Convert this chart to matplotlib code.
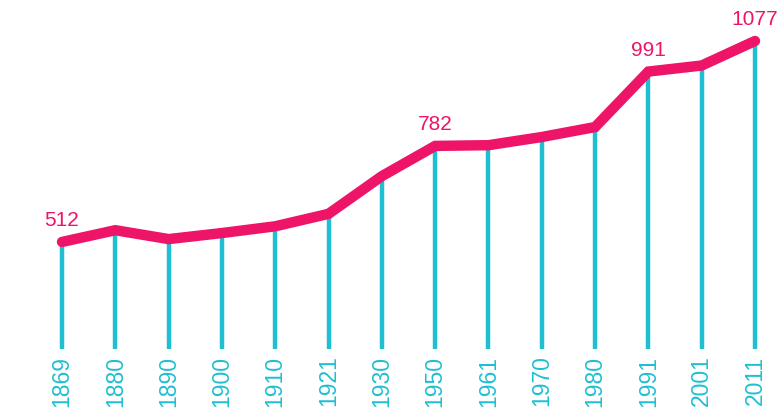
import numpy as np
import matplotlib
matplotlib.use("Agg")
from matplotlib import pyplot as plt

years = ["1869", "1880", "1890", "1900", "1910", "1921", "1930",
         "1950", "1961", "1970", "1980", "1991", "2001", "2011"]
values = [512, 545, 520, 537, 556, 591, 697, 782, 784, 807, 835, 991, 1008, 1077]
labelled = {"1869": 512, "1950": 782, "1991": 991, "2011": 1077}

pink = "#EE1468"
cyan = "#1FBFD3"
base = 211

plt.rcParams['font.family'] = ['Liberation Sans', 'DejaVu Sans']

fig = plt.figure(figsize=(7.78, 4.10), dpi=100)
ax = fig.add_axes([0, 60 / 410, 1, 350 / 410])
x = np.arange(len(years))

ax.vlines(x, base, values, color=cyan, linewidth=3.2, zorder=1)
ax.plot(x, values, color=pink, linewidth=7.5, solid_capstyle='round',
        solid_joinstyle='miter', zorder=2)

for i, y in enumerate(years):
    if y in labelled:
        ax.annotate(str(labelled[y]), (x[i], values[i]), xytext=(0, 9),
                    textcoords='offset points', ha='center', va='bottom',
                    color=pink, fontsize=15, annotation_clip=False)

ax.set_xlim(-62 / 53.3, 13 + 23 / 53.3)
ax.set_ylim(base, 1195)
ax.set_xticks(x)
ax.set_xticklabels(years, rotation=90, color=cyan, fontsize=16.5)
ax.tick_params(axis='x', length=0, pad=4)
ax.set_yticks([])
for s in ax.spines.values():
    s.set_visible(False)

fig.savefig("out.png", dpi=100)
